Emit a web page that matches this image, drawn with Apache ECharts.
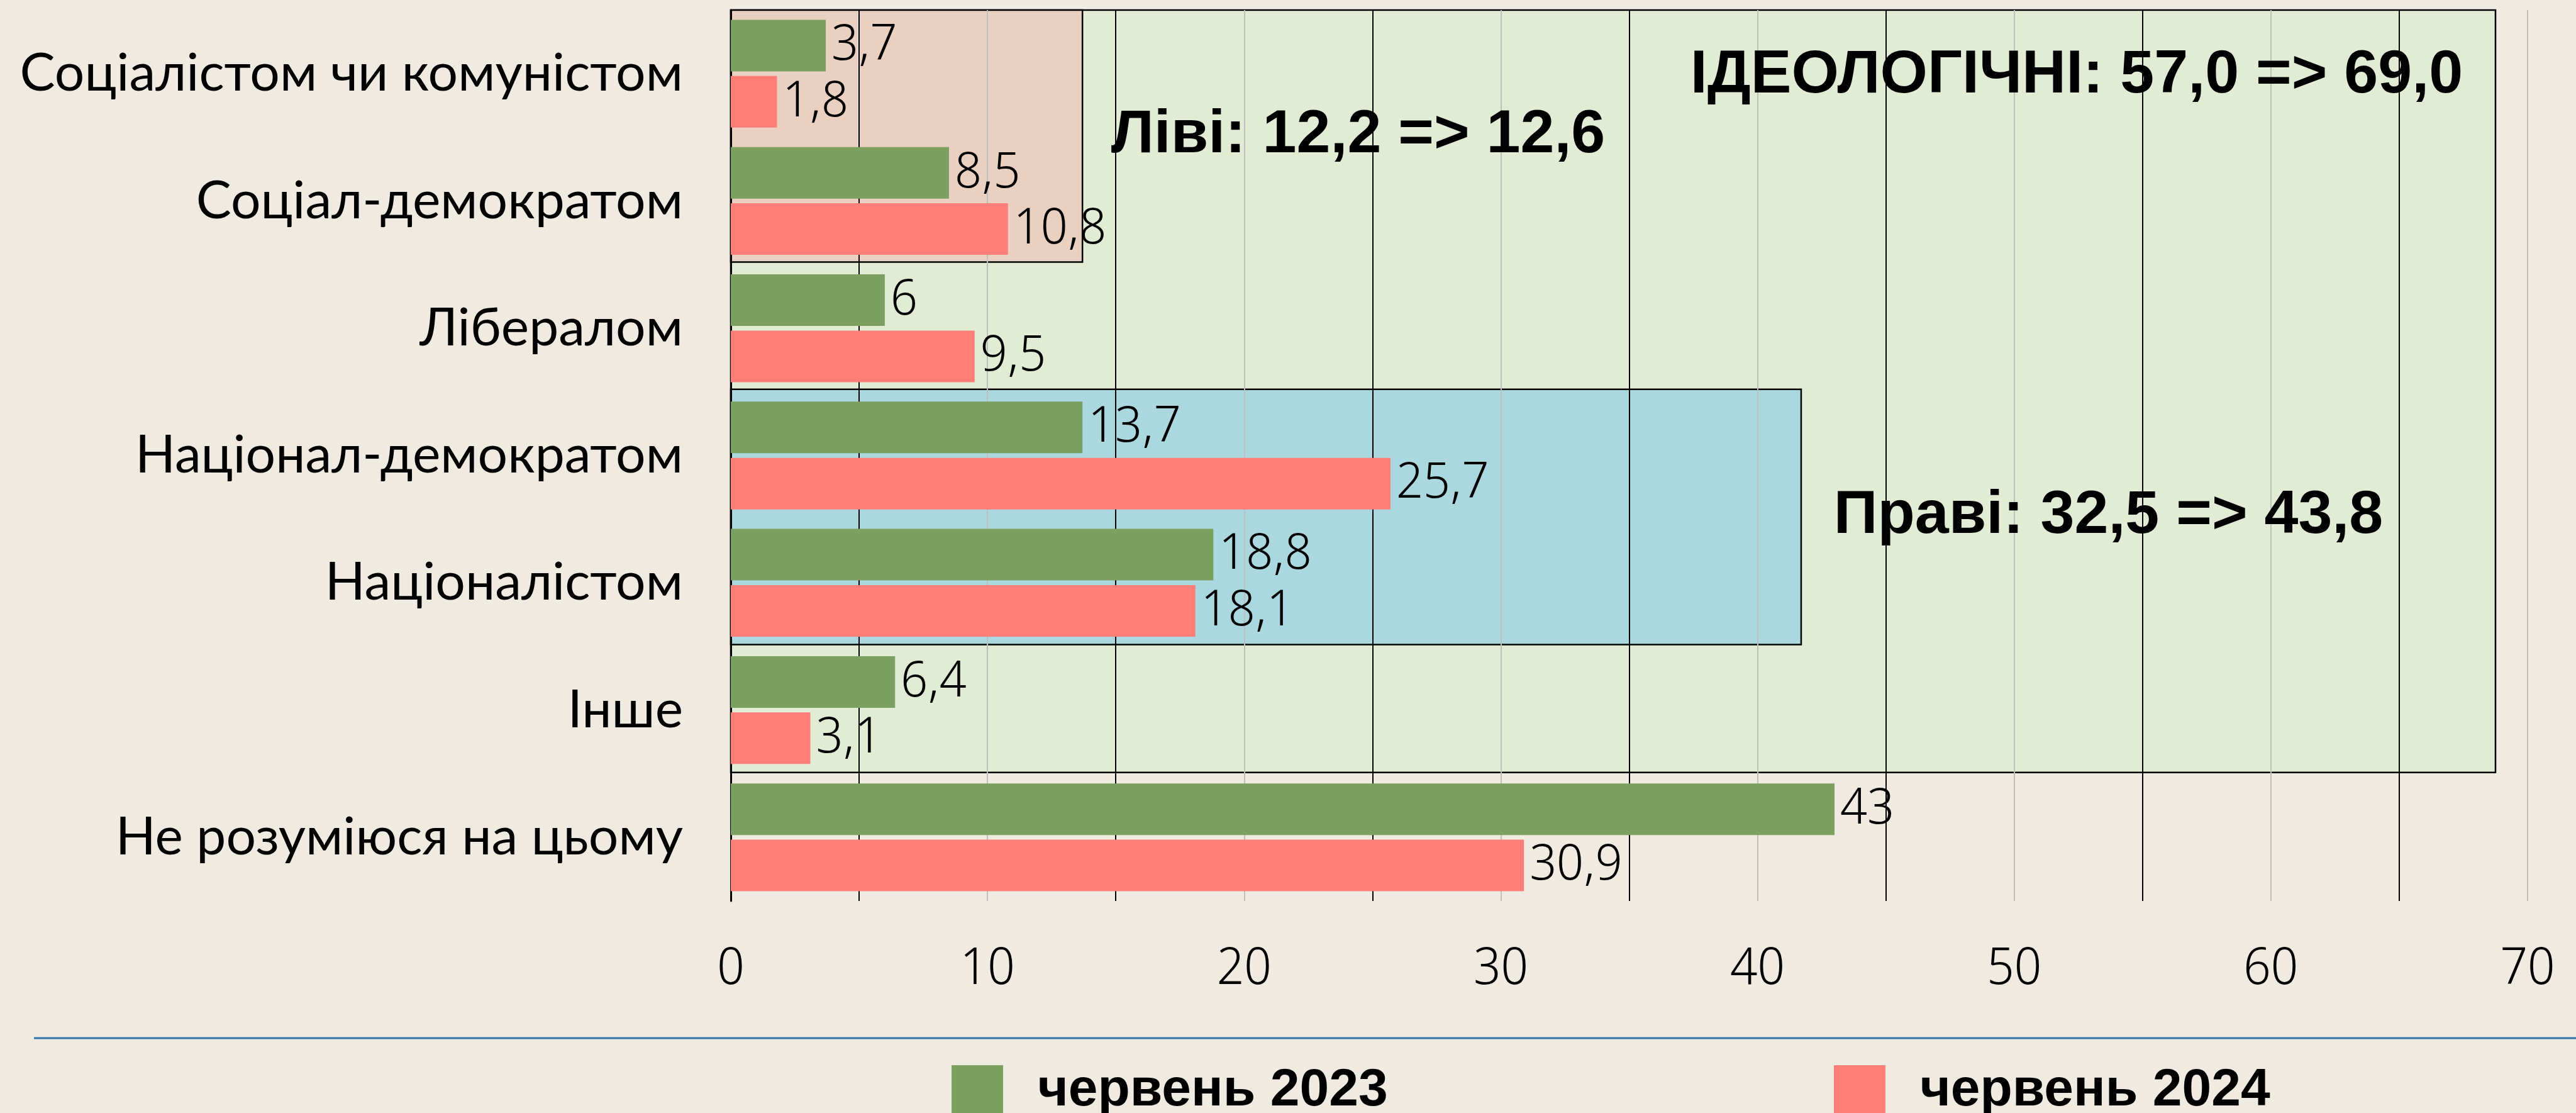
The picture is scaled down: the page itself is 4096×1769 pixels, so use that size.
<!DOCTYPE html>
<html>
<head>
<meta charset="utf-8">
<script src="https://cdn.jsdelivr.net/npm/echarts@6/dist/echarts.min.js"></script>
<style>
  html, body { margin: 0; padding: 0; background: #efebe1; }
  #chart { width: 4096px; height: 1769px; }
</style>
</head>
<body>
<div id="chart"></div>
<script>
// categories, top to bottom
const categories = [
  'Соціалістом чи комуністом',
  'Соціал-демократом',
  'Лібералом',
  'Націонал-демократом',
  'Націоналістом',
  'Інше',
  'Не розуміюся на цьому'
]
const seriesNames = ['червень 2023', 'червень 2024']
const june2023 = [3.7, 8.5, 6, 13.7, 18.8, 6.4, 43]
const june2024 = [1.8, 10.8, 9.5, 25.7, 18.1, 3.1, 30.9]

const xTicks = [0, 10, 20, 30, 40, 50, 60, 70]

// shaded groups: x from 0 to xEnd, y in category-band units (0 = top)
const boxXEnd = [68.75, 13.7, 41.7]
const boxYStart = [0, 0, 2.98]
const boxYEnd = [5.99, 1.98, 4.985]

// group captions, centre position in the same units
const noteText = ['Ліві: 12,2 => 12,6', 'ІДЕОЛОГІЧНІ: 57,0 => 69,0', 'Праві: 32,5 => 43,8']
const noteX = [24.44, 52.43, 53.67]
const noteY = [0.986, 0.516, 3.978]

const colors = {
  bg: '#efebe1',
  green: '#7ba05f',
  red: '#ff7e78',
  boxes: ['#e2ecd5', '#ead0c0', '#abd7df'],
  gridGray: '#bfbfbf',
  rule: '#2b77ad'
}

const chart = echarts.init(document.getElementById('chart'))

const fmt = v => String(v).replace('.', ',')

const legendText = { fontFamily: 'Liberation Sans', fontWeight: 'bold', fontSize: 84, color: '#000', padding: [0, 0, 0, 50] }

const option = {
  backgroundColor: colors.bg,
  animation: false,
  grid: { left: 1162, right: 77, top: 16, bottom: 337 },
  legend: [
    {
      data: [seriesNames[0]],
      left: 1508, top: 1687,
      itemWidth: 82, itemHeight: 82, icon: 'rect',
      textStyle: legendText
    },
    {
      data: [seriesNames[1]],
      left: 2911, top: 1687,
      itemWidth: 82, itemHeight: 82, icon: 'rect',
      textStyle: legendText
    }
  ],
  xAxis: {
    type: 'value',
    min: 0, max: 70, interval: 10,
    z: 3,
    axisLine: { show: false },
    axisTick: { show: false },
    axisLabel: {
      fontFamily: 'Noto Sans Display', fontWeight: 300, fontSize: 81, color: '#000', margin: 68,
      formatter: v => (xTicks.includes(v) ? String(v) : '')
    },
    splitLine: { show: true, lineStyle: { color: colors.gridGray, width: 2 } },
    minorTick: { show: false, splitNumber: 2 },
    minorSplitLine: { show: true, lineStyle: { color: '#000', width: 2 } }
  },
  yAxis: [
    {
      type: 'category',
      data: categories,
      inverse: true,
      z: 3,
      axisLine: { show: true, lineStyle: { color: '#000', width: 3 } },
      axisTick: { show: false },
      axisLabel: { fontFamily: 'Lato', fontSize: 84, color: '#000', margin: 76 },
      splitLine: { show: false }
    },
    {
      type: 'value',
      min: 0, max: 7,
      inverse: true,
      show: false
    }
  ],
  series: [
    {
      type: 'custom',
      name: 'groups',
      yAxisIndex: 1,
      z: 1,
      clip: false,
      silent: true,
      data: boxXEnd.map((x, i) => [0, x, boxYStart[i], boxYEnd[i]]),
      encode: { x: [0, 1], y: [2, 3] },
      renderItem: (params, api) => {
        const p0 = api.coord([api.value(0), api.value(2)])
        const p1 = api.coord([api.value(1), api.value(3)])
        return {
          type: 'rect',
          shape: { x: p0[0], y: p0[1], width: p1[0] - p0[0], height: p1[1] - p0[1] },
          style: { fill: colors.boxes[params.dataIndex], stroke: '#000', lineWidth: 2.5 }
        }
      }
    },
    {
      type: 'custom',
      name: 'notes',
      yAxisIndex: 1,
      z: 4,
      clip: false,
      silent: true,
      data: noteX.map((x, i) => [x, noteY[i]]),
      encode: { x: 0, y: 1 },
      renderItem: (params, api) => {
        const p = api.coord([api.value(0), api.value(1)])
        return {
          type: 'text',
          x: p[0], y: p[1],
          style: {
            text: noteText[params.dataIndex],
            fontFamily: 'Liberation Sans', fontWeight: 'bold', fontSize: 97,
            fill: '#000', align: 'center', verticalAlign: 'middle'
          }
        }
      }
    },
    {
      type: 'bar',
      name: seriesNames[0],
      data: june2023,
      z: 5,
      barWidth: 82,
      barGap: '9%',
      itemStyle: { color: colors.green },
      label: {
        show: true, position: 'right', distance: 9,
        fontFamily: 'Noto Sans Display', fontWeight: 300, fontSize: 80, color: '#000',
        formatter: p => fmt(p.value)
      }
    },
    {
      type: 'bar',
      name: seriesNames[1],
      data: june2024,
      z: 5,
      barWidth: 82,
      barGap: '9%',
      itemStyle: { color: colors.red },
      label: {
        show: true, position: 'right', distance: 9,
        fontFamily: 'Noto Sans Display', fontWeight: 300, fontSize: 80, color: '#000',
        formatter: p => fmt(p.value)
      }
    }
  ],
  graphic: [
    {
      type: 'line',
      shape: { x1: 54, y1: 1650, x2: 4096, y2: 1650 },
      style: { stroke: colors.rule, lineWidth: 3 },
      silent: true
    }
  ]
}

chart.setOption(option)
</script>
</body>
</html>
